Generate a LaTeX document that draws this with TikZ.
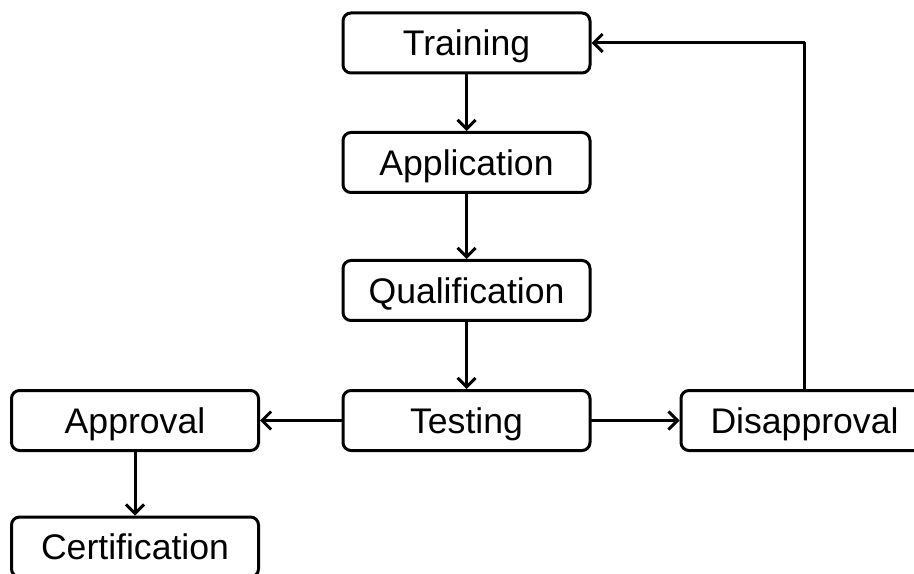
\documentclass[tikz,border=0pt]{standalone}
\usepackage{fontspec}
\setmainfont{Liberation Sans}
\usetikzlibrary{arrows.meta}
\tikzset{stage/.style={draw, line width=1.5pt, rounded corners=4pt, minimum width=123.5pt, minimum height=30pt, inner sep=0pt, text height=12.7pt, text depth=0pt}}
\begin{document}
\begin{tikzpicture}[x=0.5pt, y=0.5pt, >={Straight Barb[length=4.5pt,width=9pt,line width=1.5pt]}, font=\fontsize{17.8}{20}\selectfont, line join=round, line cap=round]
			\def\xl{135} \def\xm{466.5} \def\xr{804.5} % columns
			\useasboundingbox (0,0) rectangle (914,573);
			\clip (0,0) rectangle (914,573);
			\node[stage] (train) at (\xm,530) {Training};
			\node[stage] (appl) at (\xm,410.5) {Application};
			\node[stage] (qual) at (\xm,282.5) {Qualification};
			\node[stage] (test) at (\xm,152.5) {Testing};
			\node[stage] (appr) at (\xl,152.5) {Approval};
			\node[stage] (disappr) at (\xr,152.5) {Disapproval};
			\node[stage] (cert) at (\xl,26) {Certification};
			\begin{scope}[line width=1.5pt]
			\draw[->] (train)--(appl);
			\draw[->] (appl)--(qual);
			\draw[->] (qual)--(test);
			\draw[->] (test)--(appr);
			\draw[->] (test)--(disappr);
			\draw[->] (appr)--(cert);
			\draw[->] (disappr.north) |- (train.east);
			\end{scope}
		\end{tikzpicture}
\end{document}
